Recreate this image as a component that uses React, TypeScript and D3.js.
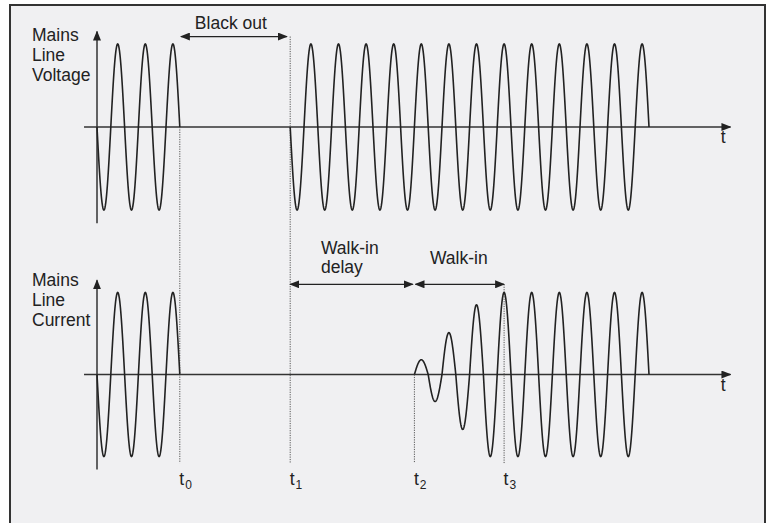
import * as d3 from 'd3';
import React from 'react';

const W = 771;
const H = 523;

// time is counted in mains cycles from the y axis
const voltageSpans = [[0, 3], [7, 20]];
const currentSpans = [[0, 3], [14.5, 20]];
const walkInStart = 11.5;
// peak of each half cycle while the current walks in (1 = full)
const walkInLobes = [0.18, 0.33, 0.51, 0.67, 0.85, 1.0];

const markerTimes = [3, 7, 11.5, 14.75];
const markerSubs = ['0', '1', '2', '3'];
// where each dotted marker starts: [panel, value]
const markerTops: [number, number][] = [[0, 0], [0, 1.09], [1, 0], [1, 1.1]];

const spanArrows = [
  { panel: 0, from: 3.04, to: 6.88, y: 1.09 },
  { panel: 1, from: 7.0, to: 11.44, y: 1.1 },
  { panel: 1, from: 11.54, to: 14.75, y: 1.1 },
];

const panelTitles = [
  ['Mains', 'Line', 'Voltage'],
  ['Mains', 'Line', 'Current'],
];

const x = d3.scaleLinear().domain([0, 20]).range([97, 649]);
const yScales = [
  d3.scaleLinear().domain([-1, 1]).range([210, 44]),
  d3.scaleLinear().domain([-1, 1]).range([456.5, 292.5]),
];

const STEP = 1 / 120;

function sinePoints(a: number, b: number, amp: (t: number) => number) {
  const pts: [number, number][] = [];
  for (let t = a; t <= b + 1e-9; t += STEP) {
    pts.push([t, -amp(t) * Math.sin(2 * Math.PI * t)]);
  }
  return pts;
}

const App = () => {
  const line = (y: d3.ScaleLinear<number, number>) =>
    d3
      .line<[number, number]>()
      .x((d) => x(d[0]))
      .y((d) => y(d[1]));

  const voltagePaths = voltageSpans.map(([a, b]) => line(yScales[0])(sinePoints(a, b, () => 1)));

  const walkPts: [number, number][] = [];
  walkInLobes.forEach((amp, k) => {
    const a = walkInStart + k / 2;
    sinePoints(a, a + 0.5, () => amp).forEach((p) => walkPts.push(p));
  });
  const currentPaths = currentSpans.map(([a, b]) => {
    const pts = sinePoints(a, b, () => 1);
    return line(yScales[1])(a === walkInStart + walkInLobes.length / 2 ? walkPts.concat(pts) : pts);
  });

  const font = "'Liberation Sans', Arial, sans-serif";
  const ink = '#222';

  return (
    <svg width={W} height={H} style={{ position: 'absolute', left: 0, top: 0 }} fontFamily={font}>
      <defs>
        <marker id="ah" viewBox="0 0 10 8" refX="9" refY="4" markerWidth="10" markerHeight="8"
          markerUnits="userSpaceOnUse" orient="auto-start-reverse">
          <path d="M0,0 L10,4 L0,8 Z" fill={ink} />
        </marker>
      </defs>
      <rect x={0} y={0} width={W} height={H} fill="#fff" />
      <rect x={10} y={5} width={755} height={530} fill="#f0f0f2" stroke="#333" strokeWidth={2} />

      {yScales.map((y, i) => (
        <g key={i}>
          <line x1={x(-0.47)} x2={x(22.95)} y1={y(0)} y2={y(0)} stroke="#333" strokeWidth={1.5} markerEnd="url(#ah)" />
          <line x1={x(0)} x2={x(0)} y1={y(-1.16)} y2={y(1.15)} stroke="#333" strokeWidth={1.5} markerEnd="url(#ah)" />
          <text x={x(22.6)} y={y(0) + 16} fontSize={17.5} fill={ink}>t</text>
          {panelTitles[i].map((s, j) => (
            <text key={j} x={32} y={(i === 0 ? 41 : 286) + j * 20} fontSize={17.5} fill={ink}>{s}</text>
          ))}
        </g>
      ))}

      {markerTimes.map((t, i) => {
        const [p, v] = markerTops[i];
        return (
          <g key={i}>
            <line x1={x(t)} x2={x(t)} y1={yScales[p](v)} y2={yScales[1](-1.08)} stroke="#555" strokeWidth={1} strokeDasharray="1.2,1.2" />
            <text x={x(t) - 0.5} y={485} fontSize={17.5} fill={ink}>
              t<tspan fontSize={12} dy={4} dx={1}>{markerSubs[i]}</tspan>
            </text>
          </g>
        );
      })}

      {voltagePaths.map((d, i) => (
        <path key={i} d={d || ''} fill="none" stroke={ink} strokeWidth={1.6} />
      ))}
      {currentPaths.map((d, i) => (
        <path key={i} d={d || ''} fill="none" stroke={ink} strokeWidth={1.6} />
      ))}

      {spanArrows.map((a, i) => (
        <line key={i} x1={x(a.from)} x2={x(a.to)} y1={yScales[a.panel](a.y)} y2={yScales[a.panel](a.y)}
          stroke={ink} strokeWidth={1.2} markerStart="url(#ah)" markerEnd="url(#ah)" />
      ))}

      <text x={x(4.85)} y={29} fontSize={17.5} fill={ink} textAnchor="middle">Black out</text>
      <text x={321} y={254} fontSize={17.5} fill={ink}>Walk-in</text>
      <text x={321} y={273} fontSize={17.5} fill={ink}>delay</text>
      <text x={430} y={264} fontSize={17.5} fill={ink}>Walk-in</text>
    </svg>
  );
};

export default App;
